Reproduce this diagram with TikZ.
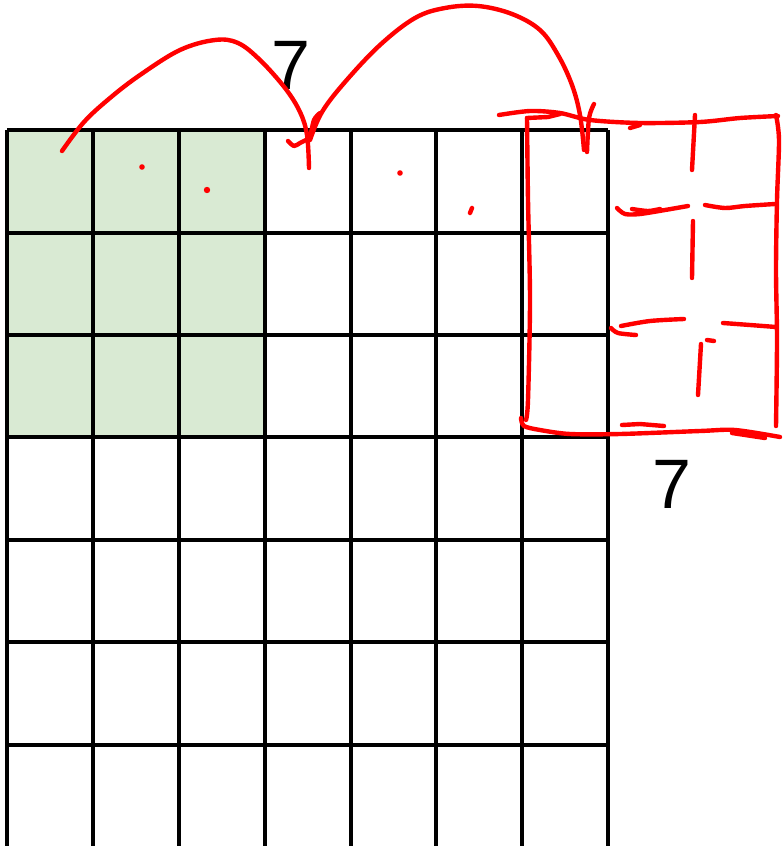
\documentclass[tikz,border=0pt]{standalone}
\usepackage{fontspec}
\setmainfont{Liberation Sans}
\definecolor{cellgreen}{HTML}{D9EAD3}
\definecolor{pen}{HTML}{FF0000}
\begin{document}
\begin{tikzpicture}[x=1pt,y=-1pt,
  gridline/.style={line width=3.2pt,black},
  ink/.style={pen,line width=4.4pt,line cap=round,line join=round},
  dot/.style={pen,fill=pen,draw=none},
  bigseven/.style={font=\fontsize{70}{70}\selectfont,inner sep=0pt}]
\useasboundingbox (0,0) rectangle (782,846);
% green receptive field
\fill[cellgreen] (7,130) rectangle (265,437);
% grid
\foreach \x in {7,93,179,265,351,436,522,608}
  \draw[gridline] (\x,130) -- (\x,850);
\foreach \y in {130,233,335,437,540,642,745}
  \draw[gridline] (7,\y) -- (608,\y);
% labels
\node[bigseven] (topseven) at (291,65) {7};
\node[bigseven] (sideseven) at (672,484) {7};
% first hop
\draw[ink] plot[smooth,tension=0.6] coordinates {(62,151) (84,122) (110,98) (140,75) (180,50) (215,40) (238,43) (260,60) (285,88) (300,112) (307,135) (309,168)};
\draw[ink] plot[smooth] coordinates {(288,141) (294,146) (300,143) (306,140)};
\draw[ink] plot[smooth] coordinates {(320,113) (314,120) (310,138)};
% second hop
\draw[ink] plot[smooth,tension=0.6] coordinates {(310,140) (322,112) (345,82) (380,45) (415,18) (445,8) (478,6) (512,14) (540,30) (558,55) (572,85) (580,115) (584,150)};
\draw[ink] plot[smooth] coordinates {(594,104) (589,118) (587,152)};
% dots
\fill[dot] (142,167) circle (2.8pt);
\fill[dot] (207,190) circle (3.2pt);
\fill[dot] (400,173) circle (2.8pt);
\draw[ink] (472,208) -- (470,213);
% red box
\draw[ink] plot[smooth,tension=0.5] coordinates {(499,115) (530,111) (560,113) (590,120) (640,123) (700,122) (740,118) (778,116)};
\draw[ink] (527,118) -- (548,117) -- (560,114);
\draw[ink] plot[smooth,tension=0.5] coordinates {(527,118) (528,200) (530,300) (528,400) (526,420)};
\draw[ink] plot[smooth,tension=0.5] coordinates {(521,418) (524,426) (540,430) (570,434) (620,434) (700,431) (735,430) (780,437)};
\draw[ink] (622,425) -- (640,424) -- (664,426);
\draw[ink] (732,433) -- (765,438);
\draw[ink] plot[smooth,tension=0.5] coordinates {(776,115) (779,140) (777,200) (776,270) (777,340) (776,426)};
\draw[ink] (630,128) -- (640,125);
% inner dashed grid
\draw[ink] (695,115) -- (692,170);
\draw[ink] (693,221) -- (692,278);
\draw[ink] (701,344) -- (698,395);
\draw[ink] plot[smooth] coordinates {(617,208) (625,214) (640,214) (665,210) (688,206)};
\draw[ink] plot[smooth] coordinates {(632,209) (648,211) (660,209)};
\draw[ink] plot[smooth] coordinates {(705,205) (725,208) (745,206) (775,204)};
\draw[ink] plot[smooth] coordinates {(611,328) (618,333) (636,335)};
\draw[ink] plot[smooth] coordinates {(621,326) (650,321) (684,319)};
\draw[ink] plot[smooth] coordinates {(723,323) (750,325) (776,327)};
\draw[ink] (707,340) -- (714,341);
\end{tikzpicture}
\end{document}
